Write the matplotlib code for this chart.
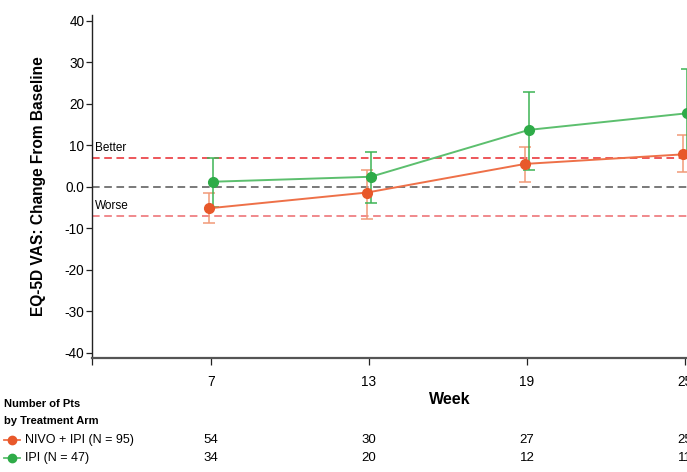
import matplotlib
matplotlib.use("Agg")
import matplotlib.pyplot as plt
from matplotlib.transforms import blended_transform_factory
from matplotlib.lines import Line2D
from matplotlib import font_manager

# ---- data -------------------------------------------------------------
weeks = [7, 13, 19, 25]

nivo_label = "NIVO + IPI (N = 95)"
nivo_mean = [-5.2, -1.4, 5.5, 7.8]
nivo_lo = [-8.7, -7.9, 1.1, 3.5]
nivo_hi = [-1.4, 4.0, 9.6, 12.5]
nivo_n = [54, 30, 27, 25]

ipi_label = "IPI (N = 47)"
ipi_mean = [1.2, 2.4, 13.7, 17.7]
ipi_lo = [-4.8, -4.0, 4.1, 7.0]
ipi_hi = [7.0, 8.4, 22.8, 28.4]
ipi_n = [34, 20, 12, 11]

mcid = 7.0
y_ticks = [40, 30, 20, 10, 0, -10, -20, -30, -40]
y_tick_labels = ["40", "30", "20", "10", "0.0", "-10", "-20", "-30", "-40"]

# ---- styling ----------------------------------------------------------
names = {f.name for f in font_manager.fontManager.ttflist}
base_font = "Liberation Sans" if "Liberation Sans" in names else "DejaVu Sans"
narrow_font = "Liberation Sans Narrow" if "Liberation Sans Narrow" in names else base_font
plt.rcParams["font.family"] = [base_font, "DejaVu Sans"]

orange_mk = "#E8582A"
orange_ln = "#EE7048"
orange_err = "#F19A78"
green_mk = "#2EAB48"
green_ln = "#5CBF6E"
green_err = "#3DB455"

fig = plt.figure(figsize=(6.87, 4.72), dpi=100)
x_left, x_right = 2.48, 26.5
ax = fig.add_axes([92 / 687, (472 - 358) / 472, 0.9207, (358 - 15) / 472])
ax.set_xlim(x_left, x_right)
ax.set_ylim(-41.3, 41.4)

dodge = 0.07

def draw_arm(mean, lo, hi, off, mk, ln, ec):
    xs = [w + off for w in weeks]
    yerr = [[m - l for m, l in zip(mean, lo)], [h - m for m, h in zip(mean, hi)]]
    ax.errorbar(xs, mean, yerr=yerr, fmt="none", ecolor=ec, elinewidth=1.1,
                capsize=4, capthick=1.1, zorder=3)
    ax.plot(xs, mean, color=ln, lw=1.4, zorder=4)
    ax.plot(xs, mean, "o", color=mk, ms=7, zorder=5)

draw_arm(nivo_mean, nivo_lo, nivo_hi, -dodge, orange_mk, orange_ln, orange_err)
draw_arm(ipi_mean, ipi_lo, ipi_hi, dodge, green_mk, green_ln, green_err)

# reference lines
ax.axhline(mcid, color="#E8282E", lw=1.1, ls=(0, (5, 3)), zorder=2)
ax.axhline(-mcid, color="#EC6A6E", lw=1.1, ls=(0, (5, 3)), zorder=2)
ax.axhline(0, color="#555555", lw=1.1, ls=(0, (5, 3)), zorder=2)
ax.text(x_left + 0.12, mcid + 0.9, "Better", fontsize=8.5, va="bottom", ha="left")
ax.text(x_left + 0.12, -mcid + 0.9, "Worse", fontsize=8.5, va="bottom", ha="left")

# axes styling
for s in ["top", "right"]:
    ax.spines[s].set_visible(False)
ax.spines["left"].set_color("#222222")
ax.spines["left"].set_linewidth(1.0)
ax.spines["bottom"].set_color("#555555")
ax.spines["bottom"].set_linewidth(1.6)

ax.set_yticks(y_ticks)
ax.set_yticklabels(y_tick_labels, fontsize=9.8)
ax.set_xticks([x_left] + weeks)
ax.set_xticklabels([""] + [str(w) for w in weeks], fontsize=9.8)
ax.tick_params(axis="y", length=4, width=0.9, color="#222222", pad=1.5)
ax.tick_params(axis="x", length=5, width=0.9, color="#222222", pad=7)

ax.set_ylabel("EQ-5D VAS: Change From Baseline", fontsize=11.2, fontweight="bold")
ax.yaxis.set_label_coords(-0.073, 0.5)

# x-axis title sits under the middle of the visible span
fig.text(450 / 687, (472 - 400) / 472, "Week", fontsize=11.5, fontweight="bold",
         va="center", ha="center")

# number-at-risk table
def fy(px):
    return (472 - px) / 472

fig.text(4 / 687, fy(404), "Number of Pts", fontsize=8, fontweight="bold",
         family=[narrow_font, "DejaVu Sans"], va="center", ha="left")
fig.text(4 / 687, fy(421), "by Treatment Arm", fontsize=8, fontweight="bold",
         family=[narrow_font, "DejaVu Sans"], va="center", ha="left")

trans = blended_transform_factory(ax.transData, fig.transFigure)
rows = [(nivo_label, nivo_n, fy(440), orange_mk, orange_ln),
        (ipi_label, ipi_n, fy(458), green_mk, green_ln)]
for label, counts, yy, mk, ln in rows:
    fig.add_artist(Line2D([4 / 687, 20 / 687], [yy, yy], color=ln, lw=1.3,
                          transform=fig.transFigure))
    fig.add_artist(Line2D([12 / 687], [yy], marker="o", color=mk, ms=6,
                          transform=fig.transFigure))
    fig.text(25 / 687, yy, label, fontsize=9, family=[narrow_font, "DejaVu Sans"],
             va="center", ha="left")
    for w, c in zip(weeks, counts):
        fig.text(w, yy, str(c), transform=trans, fontsize=9.5,
                 family=[narrow_font, "DejaVu Sans"], va="center", ha="center")

fig.savefig("out.png", dpi=100)
